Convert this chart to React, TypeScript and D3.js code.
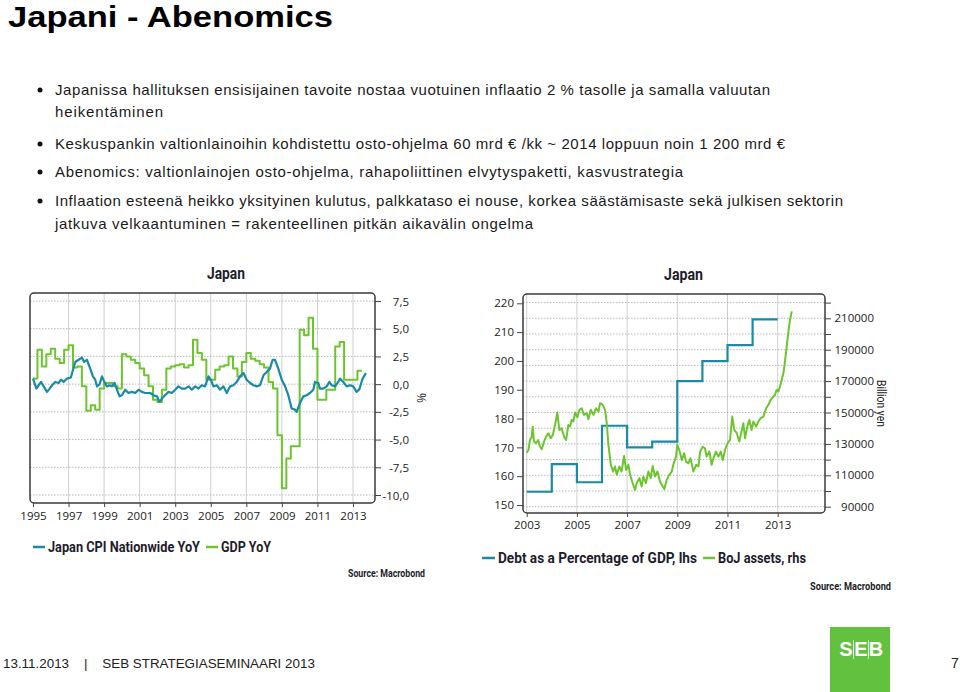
import React, { useEffect, useRef } from 'react';
import * as d3 from 'd3';

// ---- text ----
const pageTitle = 'Japani - Abenomics';
const bulletLines: { text: string; bullet: boolean }[] = [
  { text: 'Japanissa hallituksen ensisijainen tavoite nostaa vuotuinen inflaatio 2 % tasolle ja samalla valuutan', bullet: true },
  { text: 'heikentäminen', bullet: false },
  { text: 'Keskuspankin valtionlainoihin kohdistettu osto-ohjelma 60 mrd € /kk ~ 2014 loppuun noin 1 200 mrd €', bullet: true },
  { text: 'Abenomics: valtionlainojen osto-ohjelma, rahapoliittinen elvytyspaketti, kasvustrategia', bullet: true },
  { text: 'Inflaation esteenä heikko yksityinen kulutus, palkkataso ei nouse, korkea säästämisaste sekä julkisen sektorin', bullet: true },
  { text: 'jatkuva velkaantuminen = rakenteellinen pitkän aikavälin ongelma', bullet: false },
];

// ---- left chart: CPI (monthly-ish readings) and GDP (quarterly) ----
const cpiYears = [
  1995.0, 1995.19, 1995.32, 1995.45, 1995.6, 1995.79, 1995.94, 1996.07, 1996.25, 1996.44, 1996.57, 1996.72,
  1996.91, 1997.13, 1997.25, 1997.38, 1997.57, 1997.75, 1997.88, 1998.03, 1998.22, 1998.37, 1998.5, 1998.6,
  1998.75, 1998.88, 1999.01, 1999.16, 1999.31, 1999.44, 1999.59, 1999.72, 1999.87, 2000.0, 2000.19, 2000.37,
  2000.56, 2000.75, 2000.94, 2001.12, 2001.31, 2001.59, 2001.78, 2001.97, 2002.12, 2002.25, 2002.43, 2002.62,
  2002.81, 2003.0, 2003.18, 2003.37, 2003.56, 2003.75, 2003.93, 2004.12, 2004.31, 2004.49, 2004.68, 2004.87,
  2005.0, 2005.15, 2005.34, 2005.52, 2005.71, 2005.9, 2006.09, 2006.27, 2006.46, 2006.65, 2006.84, 2007.02,
  2007.21, 2007.4, 2007.58, 2007.77, 2007.96, 2008.15, 2008.33, 2008.48, 2008.61, 2008.8, 2008.99, 2009.18,
  2009.36, 2009.55, 2009.74, 2009.83, 2010.02, 2010.21, 2010.39, 2010.58, 2010.77, 2010.86, 2011.05, 2011.14,
  2011.33, 2011.52, 2011.67, 2011.8, 2011.99, 2012.17, 2012.27, 2012.45, 2012.64, 2012.83, 2013.01, 2013.2,
  2013.35, 2013.54, 2013.73,
];
const cpiValues = [
  0.5, -0.4, -0.1, 0.2, -0.2, -0.7, -0.4, -0.1, 0.2, 0.1, 0.4, 0.2,
  0.5, 0.6, 1.3, 2.0, 2.2, 2.4, 2.0, 2.2, 1.4, 0.7, 0.4, -0.2,
  0.0, 0.7, 0.2, -0.2, -0.1, -0.2, 0.1, -0.5, -1.1, -1.0, -0.5, -0.8,
  -0.7, -0.8, -0.5, -0.7, -0.8, -0.8, -1.0, -1.1, -1.6, -1.3, -1.0, -0.7,
  -0.8, -0.5, -0.2, -0.4, -0.4, -0.2, -0.5, -0.2, -0.4, -0.1, -0.2, 0.7,
  0.4, -0.2, -0.1, -0.5, -0.2, -0.8, -0.2, -0.1, 0.2, 0.7, 1.0, 0.4,
  0.1, -0.1, -0.2, -0.1, 0.8, 1.1, 1.4, 2.2, 2.2, 1.4, 0.4, -0.2,
  -1.0, -2.2, -2.3, -2.5, -1.7, -1.1, -1.0, -0.8, -0.5, 0.2, 0.1, -0.4,
  -0.4, -0.2, 0.2, -0.1, -0.2, 0.2, 0.5, 0.2, -0.2, -0.1, -0.2, -0.7,
  -0.5, 0.5, 1.0,
];
const gdpStartYear = 1995;
const gdpValues = [
  0.5, 3.1, 1.6, 2.7,
  3.2, 2.3, 1.9, 3.1,
  3.5, 1.5, 1.6, -0.2,
  -2.4, -1.9, -2.3, -0.4,
  0.1, 0.1, -0.2, -0.4,
  2.7, 2.5, 2.2, 1.9,
  1.4, 0.8, -0.2, -1.4,
  -1.6, -0.5, 1.4, 1.6,
  1.7, 1.8, 1.5, 1.7,
  4.0, 2.8, 2.2, 0.4,
  0.4, 1.3, 1.6, 1.7,
  2.5, 1.4, 0.7, 2.0,
  2.8, 2.3, 2.1, 1.8,
  1.5, 0.2, -0.4, -4.6,
  -9.4, -6.7, -5.6, -5.6,
  4.9, 4.4, 6.0, 3.2,
  -1.4, -1.4, -0.5, -0.5,
  3.4, 3.8, 0.4, 0.4,
  0.4, 1.2,
];
const leftYTicks = [-10, -7.5, -5, -2.5, 0, 2.5, 5, 7.5];
const leftXTicks = [1995, 1997, 1999, 2001, 2003, 2005, 2007, 2009, 2011, 2013];

// ---- right chart: debt % of GDP (annual) and BoJ assets ----
const debtYears = [2003, 2004, 2005, 2006, 2007, 2008, 2009, 2010, 2011, 2012];
const debtValues = [154.6, 164.2, 157.9, 177.5, 170.0, 172.0, 193.0, 199.9, 205.5, 214.4];
const debtEndYear = 2013;
const bojYears = [
  2003.0, 2003.07, 2003.13, 2003.2, 2003.24, 2003.29, 2003.37, 2003.46, 2003.53, 2003.6, 2003.69, 2003.77,
  2003.86, 2003.96, 2004.04, 2004.13, 2004.22, 2004.3, 2004.39, 2004.49, 2004.57, 2004.66, 2004.73, 2004.79,
  2004.86, 2004.93, 2005.02, 2005.1, 2005.19, 2005.28, 2005.39, 2005.46, 2005.55, 2005.66, 2005.76, 2005.86,
  2005.92, 2006.03, 2006.12, 2006.19, 2006.25, 2006.35, 2006.45, 2006.52, 2006.59, 2006.69, 2006.78, 2006.88,
  2006.96, 2007.05, 2007.12, 2007.22, 2007.32, 2007.38, 2007.49, 2007.58, 2007.65, 2007.75, 2007.85, 2007.94,
  2008.02, 2008.11, 2008.21, 2008.31, 2008.42, 2008.48, 2008.58, 2008.68, 2008.78, 2008.84, 2008.95, 2009.0,
  2009.08, 2009.18, 2009.27, 2009.35, 2009.44, 2009.53, 2009.64, 2009.75, 2009.84, 2009.91, 2010.01, 2010.1,
  2010.17, 2010.28, 2010.37, 2010.44, 2010.54, 2010.64, 2010.73, 2010.81, 2010.9, 2011.0, 2011.1, 2011.19,
  2011.27, 2011.37, 2011.47, 2011.57, 2011.63, 2011.7, 2011.79, 2011.87, 2011.96, 2012.03, 2012.14, 2012.23,
  2012.32, 2012.43, 2012.54, 2012.63, 2012.72, 2012.83, 2012.89, 2012.96, 2013.03, 2013.09, 2013.16, 2013.23,
  2013.29, 2013.36, 2013.42, 2013.49, 2013.56,
];
const bojValues = [
  124400, 126100, 132500, 134600, 141000, 131500, 130400, 132500, 128200, 126600, 131500, 134600,
  136800, 133600, 135700, 142100, 150000, 138900, 140000, 134600, 132500, 142100, 141000, 145300,
  144300, 150000, 147000, 151700, 152700, 148500, 149600, 145800, 151700, 148500, 152700, 150600,
  155900, 154900, 151700, 143200, 130400, 116700, 112400, 115600, 110300, 115600, 112400, 122300,
  113400, 116700, 110300, 105000, 100700, 105000, 108200, 102900, 109200, 105000, 112400, 108200,
  116000, 109200, 112400, 106000, 102900, 101200, 107100, 110300, 112400, 116700, 122000, 129400,
  126100, 119700, 124000, 118700, 117600, 120800, 112400, 116700, 115600, 125100, 128200, 127200,
  121900, 125100, 116700, 120800, 125100, 121900, 125100, 119700, 126100, 130400, 132500, 147400,
  138900, 136800, 131500, 138900, 143200, 133600, 141000, 145300, 138900, 144300, 141000, 144300,
  146400, 147400, 152700, 154900, 158100, 160200, 161300, 164400, 163400, 166600, 170900, 175100,
  182500, 192100, 200600, 209100, 214400,
];
const lhsTicks = [150, 160, 170, 180, 190, 200, 210, 220];
const rhsTicks = [90000, 100000, 110000, 120000, 130000, 140000, 150000, 160000, 170000, 180000, 190000, 200000, 210000, 220000];
const rhsLabelled = [90000, 110000, 130000, 150000, 170000, 190000, 210000];
const rightXTicks = [2003, 2005, 2007, 2009, 2011, 2013];

const BLUE = '#1a8aa6';
const GREEN = '#6cc52e';
const INK = '#1d1d2b';
const CHART_FONT = "'Open Sans', 'Noto Sans', sans-serif";
const LEGEND_FONT = "Roboto, 'Noto Sans', sans-serif";
const ARIAL = "'Liberation Sans', Arial, sans-serif";

const comma = (d: number) => d.toFixed(1).replace('.', ',');

type TextSel = d3.Selection<SVGTextElement, unknown, null, undefined>;
// squeeze/stretch a text to the width it has in the slide
const fit = (t: TextSel, w: number, glyphs = true) =>
  t.attr('textLength', w).attr('lengthAdjust', glyphs ? 'spacingAndGlyphs' : 'spacing');

export default function App() {
  const svgRef = useRef<SVGSVGElement>(null);

  useEffect(() => {
    if (!svgRef.current) return;
    const svg = d3.select(svgRef.current);
    svg.selectAll('*').remove();

    // Page title + bullets
    fit(svg.append('text')
      .attr('x', 8).attr('y', 27)
      .attr('font-family', ARIAL).attr('font-weight', 'bold').attr('font-size', 30)
      .attr('fill', '#000')
      .text(pageTitle), 325);

    const lineYs = [95, 117, 149, 177, 206, 229];
    const lineW = [715, 108, 730, 628, 788, 478];
    bulletLines.forEach((l, i) => {
      if (l.bullet) {
        svg.append('circle').attr('cx', 40).attr('cy', lineYs[i] - 5).attr('r', 2.5).attr('fill', '#111');
      }
      fit(svg.append('text')
        .attr('x', 55).attr('y', lineYs[i])
        .attr('font-family', ARIAL).attr('font-size', 15)
        .attr('fill', '#1a1a1a')
        .text(l.text), lineW[i], false);
    });

    const styleAxis = (g: d3.Selection<SVGGElement, unknown, null, undefined>) => {
      g.select('.domain').remove();
      g.selectAll('.tick line').attr('stroke', '#444').attr('stroke-width', 1);
      g.selectAll('.tick text')
        .attr('fill', '#222')
        .attr('font-family', CHART_FONT)
        .attr('font-size', 11.5);
    };

    const legendText = (x: number, y: number, s: string, w: number, size = 14.5) =>
      fit(svg.append('text').attr('x', x).attr('y', y)
        .attr('font-family', LEGEND_FONT).attr('font-weight', 'bold').attr('font-size', size).attr('fill', INK)
        .text(s), w);

    // ================= LEFT CHART =================
    const lx = d3.scaleLinear().domain([1995, 2013]).range([33, 353]);
    const ly = d3.scaleLinear().domain([-10, 7.5]).range([495, 301]);
    const lb = { x0: 30, x1: 375, y0: 293, y1: 503 };

    legendText(207, 279, 'Japan', 38, 16.5);

    const gl = svg.append('g');
    gl.selectAll('line.vg').data(leftXTicks.filter(d => d > 1995)).join('line')
      .attr('x1', d => lx(d)).attr('x2', d => lx(d))
      .attr('y1', lb.y0).attr('y2', lb.y1)
      .attr('stroke', '#cfcfcf').attr('stroke-width', 1);
    gl.selectAll('line.hg').data(leftYTicks).join('line')
      .attr('x1', lb.x0).attr('x2', lb.x1)
      .attr('y1', d => ly(d)).attr('y2', d => ly(d))
      .attr('stroke', '#b8b8b8').attr('stroke-width', 1).attr('stroke-dasharray', '1.5,1.5');

    svg.append('clipPath').attr('id', 'clipL').append('rect')
      .attr('x', lb.x0).attr('y', lb.y0).attr('width', lb.x1 - lb.x0).attr('height', lb.y1 - lb.y0);

    const gdpPts: [number, number][] = gdpValues.map((v, i) => [gdpStartYear + i * 0.25, v]);
    gdpPts.push([gdpStartYear + gdpValues.length * 0.25, gdpValues[gdpValues.length - 1]]);
    const stepLine = d3.line<[number, number]>().x(d => lx(d[0])).y(d => ly(d[1])).curve(d3.curveStepAfter);
    gl.append('path').datum(gdpPts)
      .attr('clip-path', 'url(#clipL)')
      .attr('fill', 'none').attr('stroke', GREEN).attr('stroke-width', 2)
      .attr('stroke-linejoin', 'round')
      .attr('d', stepLine);

    const cpiPts: [number, number][] = cpiYears.map((y, i) => [y, cpiValues[i]]);
    gl.append('path').datum(cpiPts)
      .attr('clip-path', 'url(#clipL)')
      .attr('fill', 'none').attr('stroke', BLUE).attr('stroke-width', 2.2)
      .attr('stroke-linejoin', 'round')
      .attr('d', d3.line<[number, number]>().x(d => lx(d[0])).y(d => ly(d[1])));

    gl.append('rect')
      .attr('x', lb.x0).attr('y', lb.y0).attr('width', lb.x1 - lb.x0).attr('height', lb.y1 - lb.y0)
      .attr('rx', 4).attr('fill', 'none').attr('stroke', '#3a3a3a').attr('stroke-width', 1.5);

    const lAxisR = svg.append('g').attr('transform', `translate(${lb.x1},0)`)
      .call(d3.axisRight(ly).tickValues(leftYTicks).tickSize(6).tickFormat(d => comma(+d)));
    styleAxis(lAxisR);
    lAxisR.selectAll('.tick text').attr('text-anchor', 'end').attr('x', 34).attr('dy', '0.35em');

    const lAxisB = svg.append('g').attr('transform', `translate(0,${lb.y1})`)
      .call(d3.axisBottom(lx).tickValues(leftXTicks).tickSize(4).tickFormat(d => String(d)));
    styleAxis(lAxisB);
    lAxisB.selectAll('.tick text').attr('y', 9).attr('dy', '0.71em');

    svg.append('text')
      .attr('transform', 'translate(417,398) rotate(90)')
      .attr('text-anchor', 'middle')
      .attr('font-family', CHART_FONT).attr('font-size', 12).attr('fill', '#222')
      .text('%');

    // legend left
    svg.append('line').attr('x1', 33).attr('x2', 45).attr('y1', 547).attr('y2', 547).attr('stroke', BLUE).attr('stroke-width', 2.5);
    legendText(48, 552, 'Japan CPI Nationwide YoY', 152);
    svg.append('line').attr('x1', 206).attr('x2', 218).attr('y1', 547).attr('y2', 547).attr('stroke', GREEN).attr('stroke-width', 2.5);
    legendText(221, 552, 'GDP YoY', 50);
    legendText(348, 577, 'Source: Macrobond', 77, 10.5);

    // ================= RIGHT CHART =================
    const rx = d3.scaleLinear().domain([2003, 2013]).range([526.7, 777.7]);
    const ryL = d3.scaleLinear().domain([150, 220]).range([505, 303.3]);
    const ryR = d3.scaleLinear().domain([90000, 210000]).range([506.7, 318.3]);
    const rb = { x0: 523, x1: 825, y0: 294, y1: 513 };

    legendText(664, 280, 'Japan', 39, 16.5);

    const gr = svg.append('g');
    gr.selectAll('line.vg').data(rightXTicks).join('line')
      .attr('x1', d => rx(d)).attr('x2', d => rx(d))
      .attr('y1', rb.y0).attr('y2', rb.y1)
      .attr('stroke', '#cfcfcf').attr('stroke-width', 1);
    gr.selectAll('line.hg').data(rhsTicks).join('line')
      .attr('x1', rb.x0).attr('x2', rb.x1)
      .attr('y1', d => ryR(d)).attr('y2', d => ryR(d))
      .attr('stroke', '#b8b8b8').attr('stroke-width', 1).attr('stroke-dasharray', '1.5,1.5');

    svg.append('clipPath').attr('id', 'clipR').append('rect')
      .attr('x', rb.x0).attr('y', rb.y0).attr('width', rb.x1 - rb.x0).attr('height', rb.y1 - rb.y0);

    const debtPts: [number, number][] = debtYears.map((y, i) => [y, debtValues[i]]);
    debtPts.push([debtEndYear, debtValues[debtValues.length - 1]]);
    gr.append('path').datum(debtPts)
      .attr('clip-path', 'url(#clipR)')
      .attr('fill', 'none').attr('stroke', BLUE).attr('stroke-width', 2.2)
      .attr('d', d3.line<[number, number]>().x(d => rx(d[0])).y(d => ryL(d[1])).curve(d3.curveStepAfter));

    const bojPts: [number, number][] = bojYears.map((y, i) => [y, bojValues[i]]);
    gr.append('path').datum(bojPts)
      .attr('clip-path', 'url(#clipR)')
      .attr('fill', 'none').attr('stroke', GREEN).attr('stroke-width', 2)
      .attr('stroke-linejoin', 'round')
      .attr('d', d3.line<[number, number]>().x(d => rx(d[0])).y(d => ryR(d[1])));

    gr.append('rect')
      .attr('x', rb.x0).attr('y', rb.y0).attr('width', rb.x1 - rb.x0).attr('height', rb.y1 - rb.y0)
      .attr('rx', 4).attr('fill', 'none').attr('stroke', '#3a3a3a').attr('stroke-width', 1.5);

    const rAxisL = svg.append('g').attr('transform', `translate(${rb.x0},0)`)
      .call(d3.axisLeft(ryL).tickValues(lhsTicks).tickSize(6).tickFormat(d => String(d)));
    styleAxis(rAxisL);
    rAxisL.selectAll('.tick text').attr('x', -9);

    const rAxisR = svg.append('g').attr('transform', `translate(${rb.x1},0)`)
      .call(d3.axisRight(ryR).tickValues(rhsTicks).tickSize(6)
        .tickFormat(d => (rhsLabelled.includes(+d) ? String(d) : '')));
    styleAxis(rAxisR);
    rAxisR.selectAll('.tick text').attr('text-anchor', 'end').attr('x', 49);

    const rAxisB = svg.append('g').attr('transform', `translate(0,${rb.y1})`)
      .call(d3.axisBottom(rx).tickValues(rightXTicks).tickSize(4).tickFormat(d => String(d)));
    styleAxis(rAxisB);
    rAxisB.selectAll('.tick text').attr('y', 8).attr('dy', '0.71em');

    fit(svg.append('text')
      .attr('transform', 'translate(877,380) rotate(90)')
      .attr('font-family', LEGEND_FONT).attr('font-size', 12).attr('fill', '#222')
      .text('Billion yen'), 47);

    // legend right
    svg.append('line').attr('x1', 482).attr('x2', 495).attr('y1', 558).attr('y2', 558).attr('stroke', BLUE).attr('stroke-width', 2.5);
    legendText(498, 563, 'Debt as a Percentage of GDP, lhs', 199);
    svg.append('line').attr('x1', 703).attr('x2', 715).attr('y1', 558).attr('y2', 558).attr('stroke', GREEN).attr('stroke-width', 2.5);
    legendText(718, 563, 'BoJ assets, rhs', 88);
    legendText(810, 590, 'Source: Macrobond', 81, 10.5);

    // ================= FOOTER =================
    svg.append('text').attr('x', 3).attr('y', 668)
      .attr('font-family', ARIAL).attr('font-size', 13.4).attr('fill', '#222')
      .attr('xml:space', 'preserve')
      .text('13.11.2013    |    SEB STRATEGIASEMINAARI 2013');
    svg.append('rect').attr('x', 830).attr('y', 627).attr('width', 60).attr('height', 65).attr('fill', '#63c140');
    const seb = svg.append('g').attr('font-family', ARIAL).attr('font-weight', 'bold').attr('font-size', 20).attr('fill', '#fff').attr('text-anchor', 'middle');
    seb.append('text').attr('x', 846).attr('y', 656).text('S');
    seb.append('text').attr('x', 861).attr('y', 656).text('E');
    seb.append('text').attr('x', 876).attr('y', 656).text('B');
    [853.5, 868.5].forEach(x => svg.append('line').attr('x1', x).attr('x2', x).attr('y1', 640).attr('y2', 659).attr('stroke', '#fff').attr('stroke-width', 0.8));
    svg.append('text').attr('x', 955).attr('y', 668).attr('text-anchor', 'middle')
      .attr('font-family', ARIAL).attr('font-size', 14).attr('fill', '#222').text('7');
  }, []);

  return (
    <svg
      ref={svgRef}
      width={960}
      height={692}
      viewBox="0 0 960 692"
      style={{ position: 'absolute', left: 0, top: 0, background: '#fff' }}
    />
  );
}
